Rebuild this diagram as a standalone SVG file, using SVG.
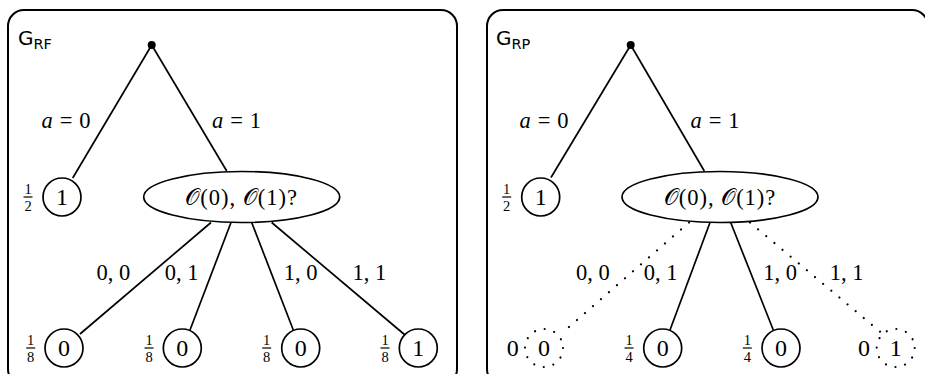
<svg xmlns="http://www.w3.org/2000/svg" width="925" height="374" viewBox="0 0 925 374">
<style>
.frame{fill:none;stroke:#000;stroke-width:2}
.e{stroke:#000;stroke-width:1.7;fill:none}
.d{stroke:#000;stroke-width:2.2;fill:none;stroke-dasharray:0.01 10.6;stroke-linecap:round}
.n{fill:#fff;stroke:#000;stroke-width:1.7}
.dn{fill:none;stroke:#000;stroke-width:2.2;stroke-dasharray:0.01 9.95;stroke-linecap:round}
.m{font-family:"Liberation Serif","DejaVu Serif",serif;font-size:22.5px;text-anchor:middle;fill:#000}
.c{font-size:24px}
.o{letter-spacing:1px}
.i{font-style:italic}
.f{font-family:"Liberation Serif","DejaVu Serif",serif;font-size:14.5px;text-anchor:middle;fill:#000}
.g{font-family:"DejaVu Sans","Liberation Sans",sans-serif;font-size:20px;fill:#000}
.gs{font-size:14.5px}
</style>
<defs>
<g id="half"><text class="f" x="0" y="-3.5">1</text><line x1="-4.5" y1="0" x2="4.5" y2="0" stroke="#000" stroke-width="1.2"/><text class="f" x="0" y="13.5">2</text></g>
<g id="eighth"><text class="f" x="0" y="-3.5">1</text><line x1="-4.5" y1="0" x2="4.5" y2="0" stroke="#000" stroke-width="1.2"/><text class="f" x="0" y="13.5">8</text></g>
<g id="quarter"><text class="f" x="0" y="-3.5">1</text><line x1="-4.5" y1="0" x2="4.5" y2="0" stroke="#000" stroke-width="1.2"/><text class="f" x="0" y="13.5">4</text></g>
</defs>

<!-- LEFT PANEL -->
<g id="panel-rf">
<rect class="frame" x="8" y="10" width="449" height="375" rx="16"/>
<text class="g" x="18" y="45">G<tspan class="gs" dy="3.5">RF</tspan></text>
</g>
<g id="connectors-rf">
<line class="e" x1="151.7" y1="45" x2="72.7" y2="178"/>
<line class="e" x1="151.7" y1="45" x2="226.7" y2="171"/>
<line class="e" x1="211" y1="222.5" x2="80" y2="334"/>
<line class="e" x1="231" y1="222.5" x2="190" y2="330"/>
<line class="e" x1="251.7" y1="222.5" x2="293.3" y2="330"/>
<line class="e" x1="271.7" y1="222.5" x2="405" y2="335"/>
<text class="m" x="66" y="128"><tspan class="i">a</tspan><tspan dx="7">=</tspan><tspan dx="7">0</tspan></text>
<text class="m" x="236.5" y="128"><tspan class="i">a</tspan><tspan dx="7">=</tspan><tspan dx="7">1</tspan></text>
<text class="m" x="113.3" y="280">0, 0</text>
<text class="m" x="181.5" y="280">0, 1</text>
<text class="m" x="300.5" y="280">1, 0</text>
<text class="m" x="369.3" y="280">1, 1</text>
</g>
<g id="rf-root"><circle cx="151.7" cy="45" r="4" fill="#000"/></g>
<g id="rf-leaf-a0"><circle class="n" cx="62" cy="197" r="19"/><text class="m c" x="62" y="205">1</text><use href="#half" x="28" y="197"/></g>
<g id="rf-oracle"><ellipse class="n" cx="241.7" cy="197" rx="98" ry="25.5"/><text class="m o" x="241.7" y="205">𝒪(0), 𝒪(1)?</text></g>
<g id="rf-leaf-00"><circle class="n" cx="64" cy="348" r="19"/><text class="m c" x="64" y="356">0</text><use href="#eighth" x="30.7" y="348"/></g>
<g id="rf-leaf-01"><circle class="n" cx="182.3" cy="348" r="19"/><text class="m c" x="182.3" y="356">0</text><use href="#eighth" x="149" y="348"/></g>
<g id="rf-leaf-10"><circle class="n" cx="300.7" cy="348" r="19"/><text class="m c" x="300.7" y="356">0</text><use href="#eighth" x="266.7" y="348"/></g>
<g id="rf-leaf-11"><circle class="n" cx="418.3" cy="348" r="19"/><text class="m c" x="418.3" y="356">1</text><use href="#eighth" x="385" y="348"/></g>

<!-- RIGHT PANEL -->
<g id="panel-rp">
<rect class="frame" x="487" y="10" width="441" height="375" rx="16"/>
<text class="g" x="496" y="45">G<tspan class="gs" dy="3.5">RP</tspan></text>
</g>
<g id="connectors-rp">
<line class="e" x1="630.7" y1="45" x2="551" y2="177.5"/>
<line class="e" x1="630.7" y1="45" x2="704.3" y2="171"/>
<line class="d" x1="689" y1="222.5" x2="561.7" y2="333.3"/>
<line class="e" x1="710" y1="222.5" x2="670" y2="330"/>
<line class="e" x1="730.7" y1="222.5" x2="773.3" y2="330"/>
<line class="d" x1="750" y1="222.5" x2="881.7" y2="333"/>
<text class="m" x="544" y="128"><tspan class="i">a</tspan><tspan dx="7">=</tspan><tspan dx="7">0</tspan></text>
<text class="m" x="715" y="128"><tspan class="i">a</tspan><tspan dx="7">=</tspan><tspan dx="7">1</tspan></text>
<text class="m" x="592.8" y="280">0, 0</text>
<text class="m" x="660.7" y="280">0, 1</text>
<text class="m" x="780.2" y="280">1, 0</text>
<text class="m" x="846.7" y="280">1, 1</text>
</g>
<g id="rp-root"><circle cx="630.7" cy="45" r="4" fill="#000"/></g>
<g id="rp-leaf-a0"><circle class="n" cx="540.7" cy="197" r="19"/><text class="m c" x="540.7" y="205">1</text><use href="#half" x="506.7" y="197"/></g>
<g id="rp-oracle"><ellipse class="n" cx="720" cy="197" rx="98" ry="25.5"/><text class="m o" x="720" y="205">𝒪(0), 𝒪(1)?</text></g>
<g id="rp-leaf-00"><circle class="dn" cx="544" cy="348" r="19"/><text class="m c" x="544" y="356">0</text><text class="m c" x="512.7" y="356">0</text></g>
<g id="rp-leaf-01"><circle class="n" cx="662.7" cy="348" r="19"/><text class="m c" x="662.7" y="356">0</text><use href="#quarter" x="629" y="348"/></g>
<g id="rp-leaf-10"><circle class="n" cx="781" cy="348" r="19"/><text class="m c" x="781" y="356">0</text><use href="#quarter" x="747.3" y="348"/></g>
<g id="rp-leaf-11"><circle class="dn" cx="895.7" cy="348" r="19"/><text class="m c" x="895.7" y="356">1</text><text class="m c" x="864" y="356">0</text></g>
</svg>
